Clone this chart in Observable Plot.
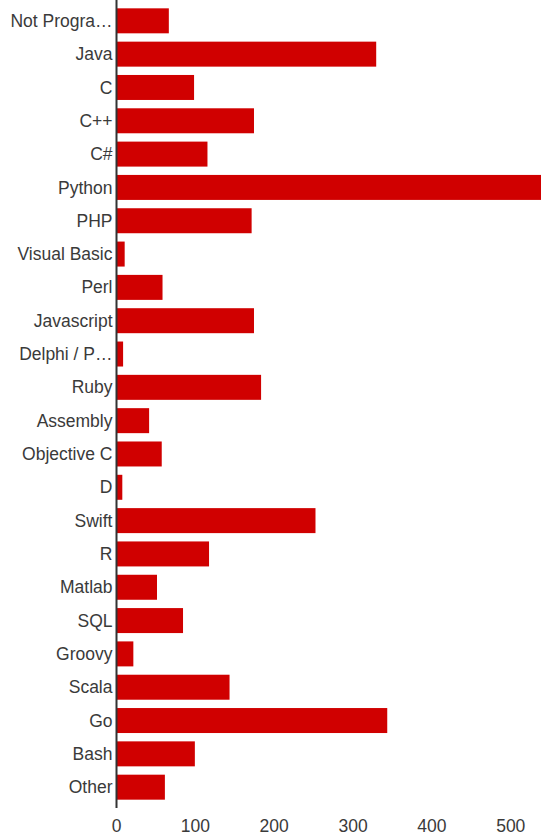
<!DOCTYPE html>
<html>
<head>
<meta charset="utf-8">
<script src="https://cdn.jsdelivr.net/npm/d3@7"></script>
<script src="https://cdn.jsdelivr.net/npm/@observablehq/plot@0.6"></script>
<style>
  html, body { margin: 0; padding: 0; background: #fff; }
  #chart svg { display: block; }
</style>
</head>
<body>
<div id="chart"></div>
<script>
const languages = [
  "Not Progra…", "Java", "C", "C++", "C#", "Python", "PHP", "Visual Basic",
  "Perl", "Javascript", "Delphi / P…", "Ruby", "Assembly", "Objective C", "D",
  "Swift", "R", "Matlab", "SQL", "Groovy", "Scala", "Go", "Bash", "Other"
];
const counts = [
  67, 330, 99, 175, 116, 539, 172, 11,
  59, 175, 9, 184, 42, 58, 8,
  253, 118, 52, 85, 22, 144, 344, 100, 62
];
const xTicks = [0, 100, 200, 300, 400, 500];

const data = languages.map((lang, i) => ({lang, count: counts[i]}));

const chart = Plot.plot({
  width: 546,
  height: 838,
  marginLeft: 116,
  marginRight: 5,
  marginTop: 0,
  marginBottom: 30,
  style: {fontFamily: "'Liberation Sans', Arial, sans-serif", fontSize: "17.5px", color: "#3a3a3a", background: "#fff"},
  x: {domain: [0, 539], ticks: xTicks, tickSize: 0, tickPadding: 11, label: null},
  y: {domain: languages, padding: 0.25, round: false, tickSize: 0, tickPadding: 4, label: null},
  marks: [
    Plot.barX(data, {x: "count", y: "lang", fill: "#d00000", insetLeft: 1}),
    Plot.ruleX([0], {stroke: "#333", strokeWidth: 2})
  ]
});
document.getElementById("chart").appendChild(chart);
</script>
</body>
</html>
